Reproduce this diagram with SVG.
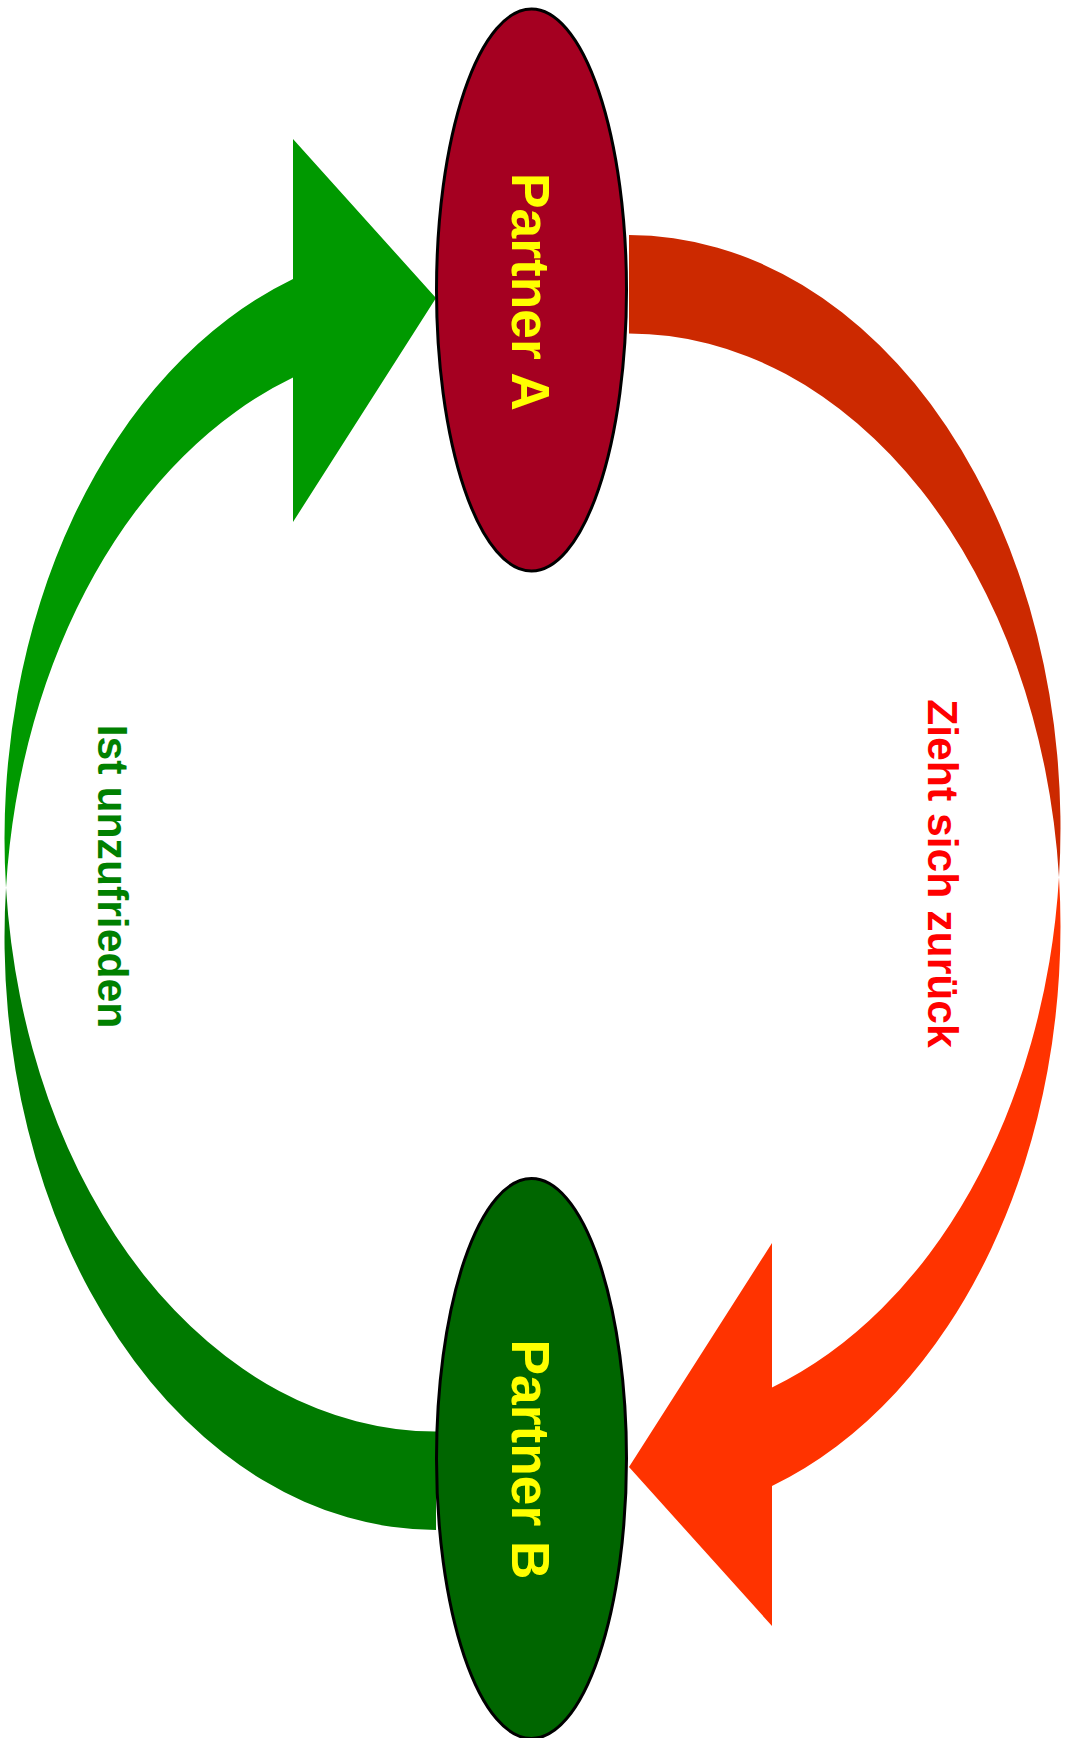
<svg xmlns="http://www.w3.org/2000/svg" width="1069" height="1738" viewBox="0 0 1069 1738">
  <style>
    .node { stroke: #000000; stroke-width: 3; }
    .ntext { font-family: "Liberation Sans", Arial, sans-serif; font-weight: bold; font-size: 53.3px; fill: #FFFF00; text-anchor: middle; }
    .ltext { font-family: "Liberation Sans", Arial, sans-serif; font-weight: bold; font-size: 42.7px; text-anchor: middle; }
  </style>
  <rect width="1069" height="1738" fill="#FFFFFF"/>
  <g id="connectors">
    <g id="arrow-a-to-b">
      <path fill="#CC2900" d="M 629 235 A 431.5 593 0 0 1 1059 877.25 A 431.5 593 0 0 0 629 333.5 Z"/>
      <path fill="#FF3300" d="M 1059 877.25 A 431.5 593 0 0 1 772 1486 L 772 1626 L 629 1467 L 772 1243 L 772 1387.5 A 431.5 593 0 0 0 1059 877.25 Z"/>
      <text class="ltext" fill="#FF0000" transform="translate(928,873.5) rotate(90)">Zieht sich zurück</text>
    </g>
    <g id="arrow-b-to-a">
      <path fill="#007A00" d="M 436 1530 A 431.5 593 0 0 1 6 887.75 A 431.5 593 0 0 0 436 1431.5 Z"/>
      <path fill="#009900" d="M 6 887.75 A 431.5 593 0 0 1 293 279 L 293 139 L 436 298 L 293 522 L 293 377.5 A 431.5 593 0 0 0 6 887.75 Z"/>
      <text class="ltext" fill="#008000" transform="translate(98,876.5) rotate(90)">Ist unzufrieden</text>
    </g>
  </g>
  <g id="partner-a">
    <ellipse class="node" cx="531.5" cy="290" rx="95" ry="281" fill="#A50021"/>
    <text class="ntext" transform="translate(511.5,292) rotate(90)">Partner A</text>
  </g>
  <g id="partner-b">
    <ellipse class="node" cx="531.5" cy="1458.5" rx="95" ry="280" fill="#006600"/>
    <text class="ntext" transform="translate(511.5,1459.5) rotate(90)">Partner B</text>
  </g>
</svg>
